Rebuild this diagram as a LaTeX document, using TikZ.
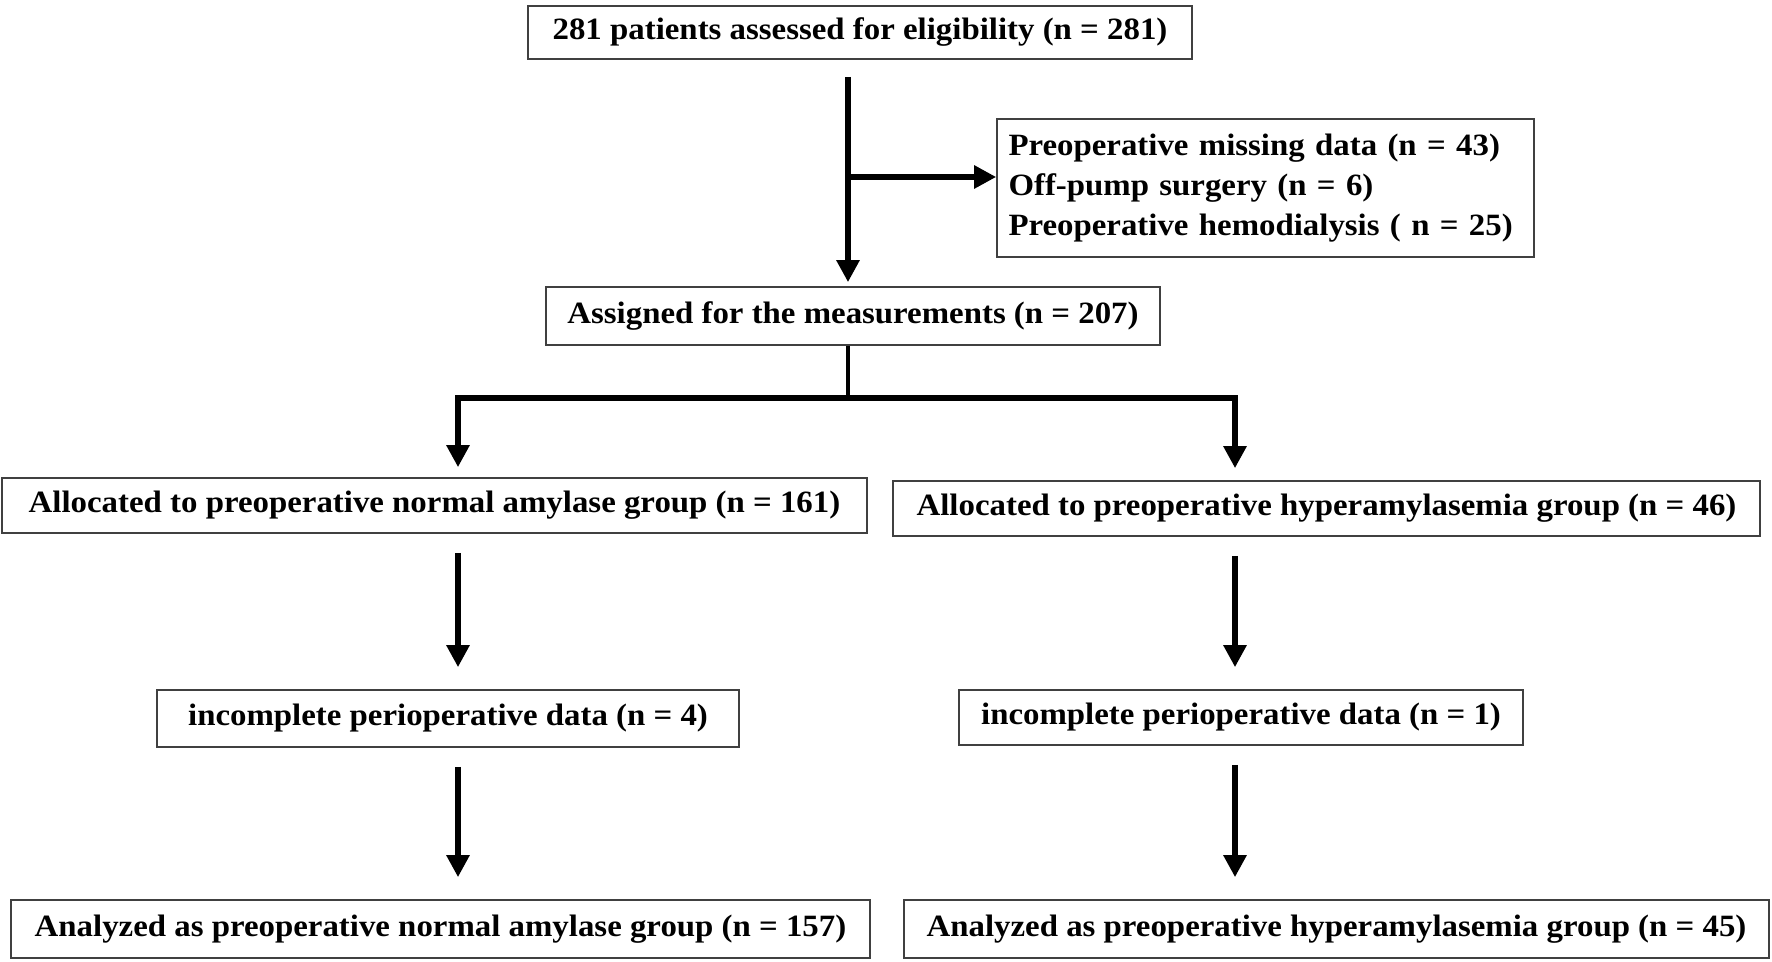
\documentclass[tikz,border=0pt]{standalone}
\usepackage{fontspec}
\setmainfont{Liberation Serif}[FakeStretch=1.06]
\usepackage{tikz}
\usetikzlibrary{arrows.meta}
\usetikzlibrary{calc}

\begin{document}
\begin{tikzpicture}[x=0.5pt, y=-0.5pt,
  flowbox/.style={draw=black!75, line width=0.8pt, inner sep=0pt,
    font=\fontsize{15.5pt}{19.8pt}\selectfont\bfseries},
  thickarrow/.style={line width=3pt, line join=miter,
    -{Triangle[width=11pt,length=11pt]}}]

\useasboundingbox (0,0) rectangle (1772,962);

 % top
 \node[flowbox, minimum width=332pt, minimum height=26.5pt] (screen) at (860,32.5)
   {281 patients assessed for eligibility (n = 281)};
 \node[flowbox, text width=257pt, inner xsep=5.75pt, align=left, minimum height=69pt]
   (excluded) at (1265.5,188)
   {Preoperative missing data (n = 43)\\Off-pump surgery (n = 6)\\Preoperative hemodialysis ( n = 25)};
 \node[flowbox, minimum width=307pt, minimum height=29pt] (assigned) at (853,316)
   {Assigned for the measurements (n = 207)};

 %level 2
 \node[flowbox, minimum width=432.5pt, minimum height=27.5pt] (allocL) at (434.5,505.5)
   {Allocated to preoperative normal amylase group (n = 161)};
 \node[flowbox, minimum width=433.5pt, minimum height=27.5pt] (allocR) at (1326.5,508.5)
   {Allocated to preoperative hyperamylasemia group (n = 46)};

 %level 3
 \node[flowbox, minimum width=291pt, minimum height=28.5pt] (incL) at (448,718.5)
   {incomplete perioperative data (n = 4)};
 \node[flowbox, minimum width=282pt, minimum height=27.5pt] (incR) at (1241,717.5)
   {incomplete perioperative data (n = 1)};

 %level 4
 \node[flowbox, minimum width=429.5pt, minimum height=29pt] (anaL) at (440.5,929)
   {Analyzed as preoperative normal amylase group (n = 157)};
 \node[flowbox, minimum width=432.5pt, minimum height=29pt] (anaR) at (1336.5,929)
   {Analyzed as preoperative hyperamylasemia group (n = 45)};

 % lines
 \coordinate (spine) at (848,0);
 \coordinate (branch) at (848,177);
 \coordinate (split) at (848,398);
 \coordinate (colL) at (458,0);
 \coordinate (colR) at (1235,0);

 \draw[thickarrow, shorten <=8.5pt, shorten >=2pt] (screen.south -| spine) -- (assigned.north -| spine);
 \draw[thickarrow] (branch) -- (branch -| excluded.west);

 \draw[line width=2.4pt] (assigned.south -| spine) -- (split);
 \draw[thickarrow, shorten >=5pt] (split) -| (allocL.north -| colL);
 \draw[thickarrow, shorten >=6pt] (split) -| (allocR.north -| colR);

 \foreach \src/\dst/\col in {allocL/incL/colL, incL/anaL/colL, allocR/incR/colR, incR/anaR/colR}
   \draw[thickarrow, shorten <=9.5pt, shorten >=11pt] (\src.south -| \col) -- (\dst.north -| \col);

\end{tikzpicture}
\end{document}
